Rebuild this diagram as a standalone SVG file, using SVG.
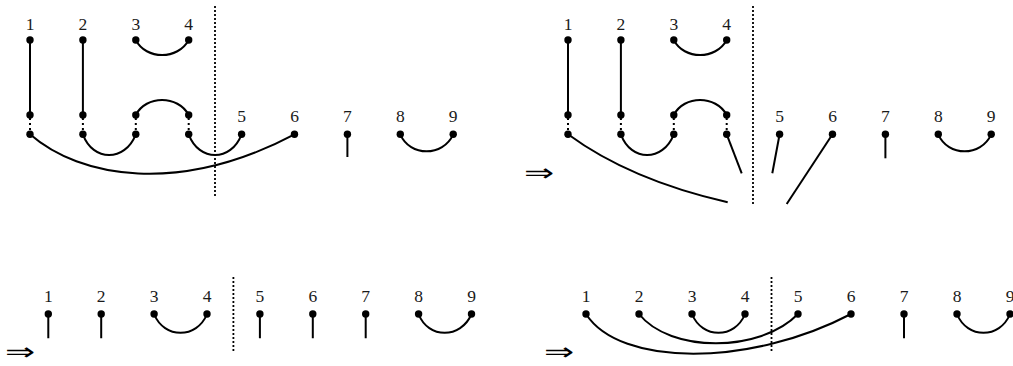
<svg xmlns="http://www.w3.org/2000/svg" width="1013" height="366" viewBox="0 0 1013 366">
<style>
.lbl{font-family:"Liberation Serif","DejaVu Serif",serif;font-size:17.5px;text-anchor:middle;fill:#1a1a1a}
.arr{font-family:"DejaVu Sans",sans-serif;font-weight:200;font-size:24px;text-anchor:middle;fill:#000}
.ln{fill:none;stroke:#000;stroke-width:2;stroke-linecap:butt}
.dt{fill:none;stroke:#000;stroke-width:2;stroke-dasharray:2 3}
.sep{fill:none;stroke:#000;stroke-width:1.8;stroke-dasharray:2 2}
circle{fill:#000}
</style>
<defs><circle id="d" r="3.7"/></defs>

<!-- Panel 1 -->
<g id="p1-connectors">
<path class="ln" d="M30,40V115M82.9,40V115"/>
<path class="dt" d="M30,118V131M82.9,118V131M135.8,118V131M188.7,118V131"/>
<path class="ln" d="M135.8,40C146,60 178,60 188.7,40"/>
<path class="ln" d="M135.8,115C146,95 178,95 188.7,115"/>
<path class="ln" d="M82.9,134.3C93,162 125,162 135.8,134.3"/>
<path class="ln" d="M188.7,134.3C199,162 231,162 241.6,134.3"/>
<path class="ln" d="M30,134.3C80,178 180,195 294.5,134.3"/>
<path class="ln" d="M347.4,134.3V157"/>
<path class="ln" d="M400.3,134.3C410,157 443,157 453.2,134.3"/>
<path class="sep" d="M215,6V197"/>
</g>
<g id="p1-n1"><text class="lbl" x="30" y="30">1</text><use href="#d" x="30" y="40"/><use href="#d" x="30" y="115"/><use href="#d" x="30" y="134.3"/></g>
<g id="p1-n2"><text class="lbl" x="82.9" y="30">2</text><use href="#d" x="82.9" y="40"/><use href="#d" x="82.9" y="115"/><use href="#d" x="82.9" y="134.3"/></g>
<g id="p1-n3"><text class="lbl" x="135.8" y="30">3</text><use href="#d" x="135.8" y="40"/><use href="#d" x="135.8" y="115"/><use href="#d" x="135.8" y="134.3"/></g>
<g id="p1-n4"><text class="lbl" x="188.7" y="30">4</text><use href="#d" x="188.7" y="40"/><use href="#d" x="188.7" y="115"/><use href="#d" x="188.7" y="134.3"/></g>
<g id="p1-n5"><text class="lbl" x="241.6" y="121.7">5</text><use href="#d" x="241.6" y="134.3"/></g>
<g id="p1-n6"><text class="lbl" x="294.5" y="121.7">6</text><use href="#d" x="294.5" y="134.3"/></g>
<g id="p1-n7"><text class="lbl" x="347.4" y="121.7">7</text><use href="#d" x="347.4" y="134.3"/></g>
<g id="p1-n8"><text class="lbl" x="400.3" y="121.7">8</text><use href="#d" x="400.3" y="134.3"/></g>
<g id="p1-n9"><text class="lbl" x="453.2" y="121.7">9</text><use href="#d" x="453.2" y="134.3"/></g>

<!-- Panel 2 -->
<text class="arr" transform="translate(539,181) scale(1.5,1)">⇒</text>
<g id="p2-connectors">
<path class="ln" d="M568,40V115M620.9,40V115"/>
<path class="dt" d="M568,118V131M620.9,118V131M673.8,118V131M726.7,118V131"/>
<path class="ln" d="M673.8,40C684,60 716,60 726.7,40"/>
<path class="ln" d="M673.8,115C684,95 716,95 726.7,115"/>
<path class="ln" d="M620.9,134.3C631,162 663,162 673.8,134.3"/>
<path class="ln" d="M568,134.3Q630,180 727.7,202.3"/>
<path class="ln" d="M726.7,134.3L741.7,173.3"/>
<path class="ln" d="M779.6,134.3L772.3,173.3"/>
<path class="ln" d="M832.5,134.3L786.7,204"/>
<path class="ln" d="M885.4,134.3V158.3"/>
<path class="ln" d="M938.3,134.3C948,157 981,157 991.2,134.3"/>
<path class="sep" d="M753,6V205"/>
</g>
<g id="p2-n1"><text class="lbl" x="568" y="30">1</text><use href="#d" x="568" y="40"/><use href="#d" x="568" y="115"/><use href="#d" x="568" y="134.3"/></g>
<g id="p2-n2"><text class="lbl" x="620.9" y="30">2</text><use href="#d" x="620.9" y="40"/><use href="#d" x="620.9" y="115"/><use href="#d" x="620.9" y="134.3"/></g>
<g id="p2-n3"><text class="lbl" x="673.8" y="30">3</text><use href="#d" x="673.8" y="40"/><use href="#d" x="673.8" y="115"/><use href="#d" x="673.8" y="134.3"/></g>
<g id="p2-n4"><text class="lbl" x="726.7" y="30">4</text><use href="#d" x="726.7" y="40"/><use href="#d" x="726.7" y="115"/><use href="#d" x="726.7" y="134.3"/></g>
<g id="p2-n5"><text class="lbl" x="779.6" y="121.7">5</text><use href="#d" x="779.6" y="134.3"/></g>
<g id="p2-n6"><text class="lbl" x="832.5" y="121.7">6</text><use href="#d" x="832.5" y="134.3"/></g>
<g id="p2-n7"><text class="lbl" x="885.4" y="121.7">7</text><use href="#d" x="885.4" y="134.3"/></g>
<g id="p2-n8"><text class="lbl" x="938.3" y="121.7">8</text><use href="#d" x="938.3" y="134.3"/></g>
<g id="p2-n9"><text class="lbl" x="991.2" y="121.7">9</text><use href="#d" x="991.2" y="134.3"/></g>

<!-- Panel 3 -->
<text class="arr" transform="translate(20,360) scale(1.5,1)">⇒</text>
<g id="p3-connectors">
<path class="ln" d="M48.3,314V338.3M101.2,314V338.3M259.9,314V338.3M312.8,314V338.3M365.7,314V338.3"/>
<path class="ln" d="M154.1,314C164,339 197,339 207,314"/>
<path class="ln" d="M418.6,314C428,339 461,339 471.5,314"/>
<path class="sep" d="M233.4,277V353"/>
</g>
<g id="p3-n1"><text class="lbl" x="48.3" y="302.3">1</text><use href="#d" x="48.3" y="314"/></g>
<g id="p3-n2"><text class="lbl" x="101.2" y="302.3">2</text><use href="#d" x="101.2" y="314"/></g>
<g id="p3-n3"><text class="lbl" x="154.1" y="302.3">3</text><use href="#d" x="154.1" y="314"/></g>
<g id="p3-n4"><text class="lbl" x="207" y="302.3">4</text><use href="#d" x="207" y="314"/></g>
<g id="p3-n5"><text class="lbl" x="259.9" y="302.3">5</text><use href="#d" x="259.9" y="314"/></g>
<g id="p3-n6"><text class="lbl" x="312.8" y="302.3">6</text><use href="#d" x="312.8" y="314"/></g>
<g id="p3-n7"><text class="lbl" x="365.7" y="302.3">7</text><use href="#d" x="365.7" y="314"/></g>
<g id="p3-n8"><text class="lbl" x="418.6" y="302.3">8</text><use href="#d" x="418.6" y="314"/></g>
<g id="p3-n9"><text class="lbl" x="471.5" y="302.3">9</text><use href="#d" x="471.5" y="314"/></g>

<!-- Panel 4 -->
<text class="arr" transform="translate(559,360) scale(1.5,1)">⇒</text>
<g id="p4-connectors">
<path class="ln" d="M692,314C702,339 735,339 745,314"/>
<path class="ln" d="M639,314C670,353 760,353 798,314"/>
<path class="ln" d="M586,314C620,367 750,367 851,314"/>
<path class="ln" d="M904,314V338.3"/>
<path class="ln" d="M957,314C967,339 1000,339 1010,314"/>
<path class="sep" d="M771.5,277V353"/>
</g>
<g id="p4-n1"><text class="lbl" x="586" y="302.3">1</text><use href="#d" x="586" y="314"/></g>
<g id="p4-n2"><text class="lbl" x="639" y="302.3">2</text><use href="#d" x="639" y="314"/></g>
<g id="p4-n3"><text class="lbl" x="692" y="302.3">3</text><use href="#d" x="692" y="314"/></g>
<g id="p4-n4"><text class="lbl" x="745" y="302.3">4</text><use href="#d" x="745" y="314"/></g>
<g id="p4-n5"><text class="lbl" x="798" y="302.3">5</text><use href="#d" x="798" y="314"/></g>
<g id="p4-n6"><text class="lbl" x="851" y="302.3">6</text><use href="#d" x="851" y="314"/></g>
<g id="p4-n7"><text class="lbl" x="904" y="302.3">7</text><use href="#d" x="904" y="314"/></g>
<g id="p4-n8"><text class="lbl" x="957" y="302.3">8</text><use href="#d" x="957" y="314"/></g>
<g id="p4-n9"><text class="lbl" x="1010" y="302.3">9</text><use href="#d" x="1010" y="314"/></g>
</svg>
